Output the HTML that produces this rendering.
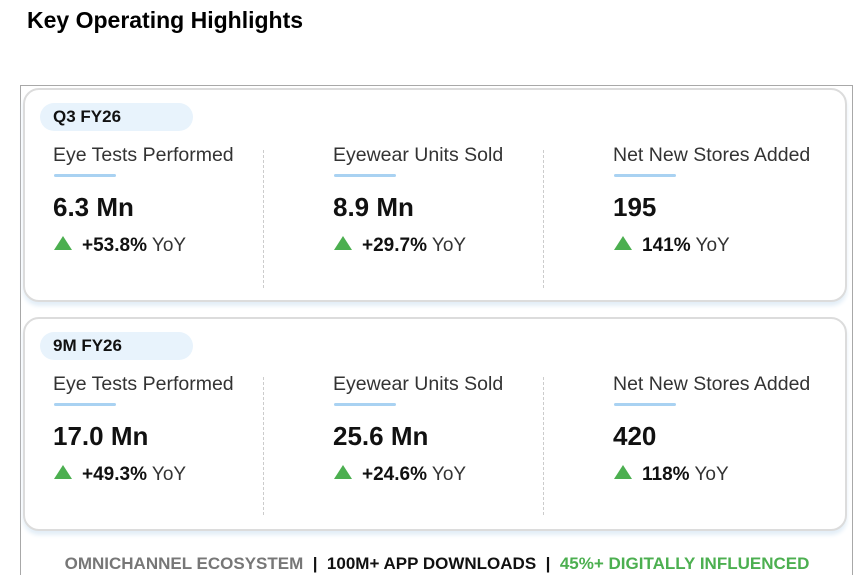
<!DOCTYPE html>
<html><head><style>
body{margin:0;width:858px;height:579px;background:#fff;position:relative;overflow:hidden;font-family:"Liberation Sans",sans-serif;}
.abs{position:absolute}
.title{left:27px;top:7px;font-size:23px;font-weight:bold;color:#000;}
.frame{left:20px;top:85px;width:831px;height:489px;border:1px solid #a8a8a8;border-bottom:none}
.card{position:absolute;left:23px;width:820px;border:2px solid #dcdcdc;border-radius:16px;background:#fff;box-shadow:0 4px 4px #e3eef7}
.pill{position:absolute;left:40px;width:153px;height:28px;background:#e8f3fc;border-radius:14px;font-weight:bold;font-size:17px;line-height:28px;padding-left:13px;box-sizing:border-box;color:#111}
.lab{position:absolute;font-size:19.5px;color:#333}
.bar{position:absolute;width:62px;height:3px;background:#a9d2f2;border-radius:2px}
.val{position:absolute;font-size:26px;font-weight:bold;color:#111}
.yoy{position:absolute;font-size:19px;color:#333}
.yoy b{color:#111}
.tri{display:inline-block;width:0;height:0;border-left:9px solid transparent;border-right:9px solid transparent;border-bottom:14px solid #4caf50;margin-right:10px;vertical-align:1px}
.dash{position:absolute;width:0;border-left:1px dashed #ccc}
.foot{left:0;width:874px;top:554px;text-align:center;font-size:17px;font-weight:bold;}
</style></head><body>
<div class="abs title">Key Operating Highlights</div>
<div class="abs frame"></div>
<div class="card" style="top:88px;height:210px"></div>
<div class="card" style="top:317px;height:210px"></div>

<div class="pill" style="top:103px">Q3 FY26</div>
<div class="pill" style="top:332px">9M FY26</div>

<div class="dash" style="left:263px;top:150px;height:138px"></div>
<div class="dash" style="left:543px;top:150px;height:138px"></div>
<div class="dash" style="left:263px;top:377px;height:138px"></div>
<div class="dash" style="left:543px;top:377px;height:138px"></div>

<div class="lab" style="left:53px;top:144px">Eye Tests Performed</div>
<div class="lab" style="left:333px;top:144px">Eyewear Units Sold</div>
<div class="lab" style="left:613px;top:144px">Net New Stores Added</div>
<div class="bar" style="left:54px;top:174px"></div>
<div class="bar" style="left:334px;top:174px"></div>
<div class="bar" style="left:614px;top:174px"></div>
<div class="val" style="left:53px;top:192px">6.3 Mn</div>
<div class="val" style="left:333px;top:192px">8.9 Mn</div>
<div class="val" style="left:613px;top:192px">195</div>
<div class="yoy" style="left:54px;top:235px"><span class="tri"></span><b>+53.8%</b> YoY</div>
<div class="yoy" style="left:334px;top:235px"><span class="tri"></span><b>+29.7%</b> YoY</div>
<div class="yoy" style="left:614px;top:235px"><span class="tri"></span><b>141%</b> YoY</div>

<div class="lab" style="left:53px;top:373px">Eye Tests Performed</div>
<div class="lab" style="left:333px;top:373px">Eyewear Units Sold</div>
<div class="lab" style="left:613px;top:373px">Net New Stores Added</div>
<div class="bar" style="left:54px;top:403px"></div>
<div class="bar" style="left:334px;top:403px"></div>
<div class="bar" style="left:614px;top:403px"></div>
<div class="val" style="left:53px;top:421px">17.0 Mn</div>
<div class="val" style="left:333px;top:421px">25.6 Mn</div>
<div class="val" style="left:613px;top:421px">420</div>
<div class="yoy" style="left:54px;top:464px"><span class="tri"></span><b>+49.3%</b> YoY</div>
<div class="yoy" style="left:334px;top:464px"><span class="tri"></span><b>+24.6%</b> YoY</div>
<div class="yoy" style="left:614px;top:464px"><span class="tri"></span><b>118%</b> YoY</div>

<div class="abs foot"><span style="color:#777">OMNICHANNEL ECOSYSTEM</span> <span style="color:#111">&nbsp;|&nbsp; 100M+ APP DOWNLOADS &nbsp;|&nbsp;</span> <span style="color:#4caf50">45%+ DIGITALLY INFLUENCED</span></div>
</body></html>
